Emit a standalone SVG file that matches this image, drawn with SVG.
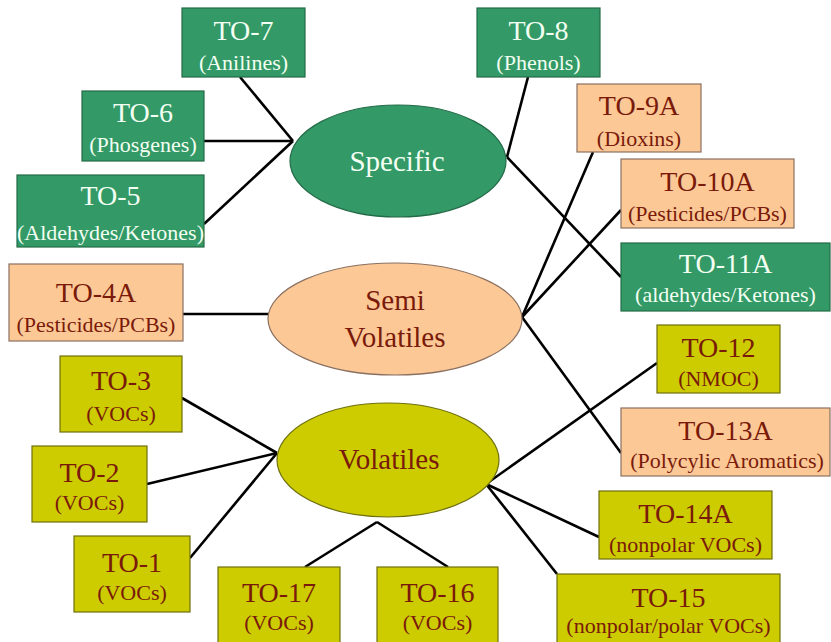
<svg xmlns="http://www.w3.org/2000/svg" width="831" height="642" viewBox="0 0 831 642" font-family="Liberation Serif, serif">
<style>
.gbox{fill:#339966;stroke:#236b47;stroke-width:1.2}
.pbox{fill:#fcc896;stroke:#8a7060;stroke-width:1.2}
.ybox{fill:#cccc00;stroke:#6f6f10;stroke-width:1.2}
.title{font-family:Liberation Serif, serif;font-size:28px;text-anchor:middle}
.sub{font-family:Liberation Serif, serif;font-size:22px;text-anchor:middle}
.lbl{font-family:Liberation Serif, serif;font-size:29px;text-anchor:middle}
.wt{fill:#f2fff2}
.rt{fill:#7a1a0a}
.conn line{stroke:#000;stroke-width:2.6}
</style>
<rect width="831" height="642" fill="#fff"/>
<g id="connectors" class="conn">
<line x1="240" y1="77" x2="293" y2="141"/>
<line x1="204" y1="141" x2="293" y2="141"/>
<line x1="204" y1="224" x2="293" y2="141"/>
<line x1="528" y1="77" x2="507" y2="157"/>
<line x1="507" y1="157" x2="621" y2="277"/>
<line x1="593" y1="152" x2="522" y2="317"/>
<line x1="621" y1="210" x2="522" y2="317"/>
<line x1="183" y1="314" x2="269" y2="314"/>
<line x1="522" y1="317" x2="621" y2="453"/>
<line x1="182" y1="398" x2="277" y2="453"/>
<line x1="147" y1="484" x2="277" y2="453"/>
<line x1="190" y1="558" x2="277" y2="453"/>
<line x1="305" y1="567" x2="377" y2="522"/>
<line x1="377" y1="522" x2="448" y2="567"/>
<line x1="657" y1="363" x2="486" y2="484"/>
<line x1="486" y1="484" x2="599" y2="537"/>
<line x1="486" y1="484" x2="557" y2="574"/>
</g>
<g id="specific"><ellipse class="gbox" cx="398" cy="161" rx="108" ry="56"/><text class="lbl wt" x="397" y="171" font-size="30">Specific</text></g>
<g id="semi"><ellipse class="pbox" cx="395" cy="319" rx="127" ry="56"/><text class="lbl rt" x="395" y="310">Semi</text><text class="lbl rt" x="395" y="347">Volatiles</text></g>
<g id="volatiles"><ellipse class="ybox" cx="388" cy="460" rx="111" ry="57"/><text class="lbl rt" x="389" y="469">Volatiles</text></g>

<g id="to7"><rect class="gbox" x="182" y="8" width="123" height="69"/><text class="title wt" x="243.5" y="40">TO-7</text><text class="sub wt" x="243.5" y="70">(Anilines)</text></g>
<g id="to6"><rect class="gbox" x="82" y="91" width="122" height="70"/><text class="title wt" x="143" y="122">TO-6</text><text class="sub wt" x="143" y="152">(Phosgenes)</text></g>
<g id="to5"><rect class="gbox" x="17" y="175" width="187" height="72"/><text class="title wt" x="110.5" y="205">TO-5</text><text class="sub wt" x="110.5" y="240">(Aldehydes/Ketones)</text></g>
<g id="to8"><rect class="gbox" x="477" y="8" width="123" height="69"/><text class="title wt" x="538.5" y="40">TO-8</text><text class="sub wt" x="538.5" y="70">(Phenols)</text></g>
<g id="to9a"><rect class="pbox" x="577" y="84" width="124" height="68"/><text class="title rt" x="639" y="115">TO-9A</text><text class="sub rt" x="639" y="146">(Dioxins)</text></g>
<g id="to10a"><rect class="pbox" x="621" y="159" width="173" height="69"/><text class="title rt" x="707.5" y="191">TO-10A</text><text class="sub rt" x="707.5" y="221">(Pesticides/PCBs)</text></g>
<g id="to11a"><rect class="gbox" x="621" y="243" width="209" height="68"/><text class="title wt" x="725.5" y="273">TO-11A</text><text class="sub wt" x="725.5" y="302">(aldehydes/Ketones)</text></g>
<g id="to4a"><rect class="pbox" x="9" y="264" width="174" height="77"/><text class="title rt" x="96" y="302">TO-4A</text><text class="sub rt" x="96" y="332">(Pesticides/PCBs)</text></g>
<g id="to3"><rect class="ybox" x="60" y="356" width="122" height="76"/><text class="title rt" x="121" y="390">TO-3</text><text class="sub rt" x="121" y="421">(VOCs)</text></g>
<g id="to2"><rect class="ybox" x="32" y="446" width="115" height="76"/><text class="title rt" x="89.5" y="482">TO-2</text><text class="sub rt" x="89.5" y="510">(VOCs)</text></g>
<g id="to1"><rect class="ybox" x="74" y="536" width="116" height="76"/><text class="title rt" x="132" y="572">TO-1</text><text class="sub rt" x="132" y="600">(VOCs)</text></g>
<g id="to17"><rect class="ybox" x="218" y="567" width="122" height="77"/><text class="title rt" x="279" y="602">TO-17</text><text class="sub rt" x="279" y="630">(VOCs)</text></g>
<g id="to16"><rect class="ybox" x="377" y="567" width="121" height="77"/><text class="title rt" x="437.5" y="602">TO-16</text><text class="sub rt" x="437.5" y="630">(VOCs)</text></g>
<g id="to12"><rect class="ybox" x="657" y="325" width="123" height="68"/><text class="title rt" x="718.5" y="357">TO-12</text><text class="sub rt" x="718.5" y="386">(NMOC)</text></g>
<g id="to13a"><rect class="pbox" x="621" y="408" width="209" height="68"/><text class="title rt" x="725.5" y="440">TO-13A</text><text class="sub rt" x="727" y="468">(Polycylic Aromatics)</text></g>
<g id="to14a"><rect class="ybox" x="599" y="491" width="173" height="68"/><text class="title rt" x="685.5" y="523">TO-14A</text><text class="sub rt" x="685.5" y="552">(nonpolar VOCs)</text></g>
<g id="to15"><rect class="ybox" x="557" y="574" width="223" height="70"/><text class="title rt" x="668.5" y="607">TO-15</text><text class="sub rt" x="668.5" y="633">(nonpolar/polar VOCs)</text></g>
</svg>
